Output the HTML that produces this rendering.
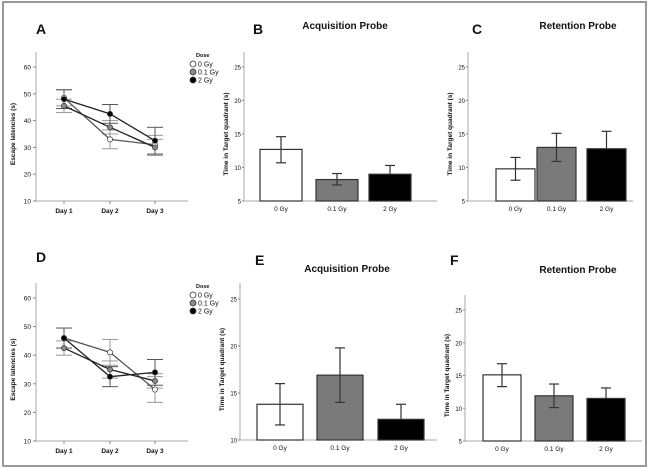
<!DOCTYPE html>
<html><head><meta charset="utf-8"><style>
body{margin:0;background:#fff;}
svg{display:block;font-family:"Liberation Sans",Arial,sans-serif;}
</style></head><body>
<svg id="fig" width="650" height="469" viewBox="0 0 650 469">
<rect x="3" y="2" width="643" height="464" fill="none" stroke="#999" stroke-width="2"/>
</svg>
<script>
const doses = ["0 Gy","0.1 Gy","2 Gy"];
const days = ["Day 1","Day 2","Day 3"];
const lineTicks = [10,20,30,40,50,60];
// Panel A (mean, err) per dose per day
const aMeans0 = [48.5,33,31];
const aMeans01 = [45.5,37.5,30];
const aMeans2 = [48,42.5,32.5];
const aErr0 = [3,3.5,3.5];
const aErr01 = [2.5,2.5,3];
const aErr2 = [3.5,3.5,5];
// Panel D
const dMeans0 = [46,41,28];
const dMeans01 = [42.5,35,31];
const dMeans2 = [46,32.5,34];
const dErr0 = [3.5,4.5,4.5];
const dErr01 = [2.5,3,2.5];
const dErr2 = [3.5,3.5,4.5];
// Bar panels
const bMeans = [12.7,8.2,9.0];
const bLow = [10.7,7.4,9.0];
const bHigh = [14.6,9.1,10.3];
const cMeans = [9.8,13.0,12.8];
const cLow = [8.1,10.9,12.8];
const cHigh = [11.5,15.1,15.4];
const eMeans = [13.8,16.9,12.2];
const eLow = [11.6,14.0,12.2];
const eHigh = [16.0,19.8,13.8];
const fMeans = [15.1,11.9,11.5];
const fLow = [13.3,10.1,11.5];
const fHigh = [16.8,13.7,13.1];
const barTicksB = [5,10,15,20,25];
const barTicksE = [10,15,20,25];

const svg = document.getElementById('fig');
const NS = 'http://www.w3.org/2000/svg';
function mk(tag, attrs, parent){
  const e = document.createElementNS(NS, tag);
  for (const k in attrs) e.setAttribute(k, attrs[k]);
  (parent||svg).appendChild(e);
  return e;
}
function txt(s, x, y, size, weight, anchor, parent, name, rot){
  const t = mk('text',{x:x,y:y,'font-size':size,'font-weight':weight||'normal','text-anchor':anchor||'start',fill:'#111'},parent);
  if (rot) t.setAttribute('transform','rotate(-90 '+x+' '+y+')');
  t.textContent = s;
  
  
  return t;
}
const doseFill = ['#fff','#8a8a8a','#000'];

function linePanel(id, letter, ly, y0, y1, means, errs){
  const g = mk('g',{});
  
  
  const x0 = 36, xEnd = 188, dayX = [64,110,155];
  const yS = v => y1 - (v-10)/(60-10)*(y1-y0);
  txt(letter, 36, ly, 14, 'bold', 'start', g, 'panel-label-'+id);
  mk('line',{x1:x0,y1:y0-15,x2:x0,y2:y1,stroke:'#aaa'},g);
  mk('line',{x1:x0,y1:y1,x2:xEnd,y2:y1,stroke:'#aaa'},g);
  lineTicks.forEach(t=>{
    mk('line',{x1:x0-3,y1:yS(t),x2:x0,y2:yS(t),stroke:'#888'},g);
    txt(String(t), x0-5, yS(t)+2.5, 6.5, 'normal', 'end', g, 'y-tick-'+t);
  });
  days.forEach((d,i)=>{
    mk('line',{x1:dayX[i],y1:y1,x2:dayX[i],y2:y1+3,stroke:'#888'},g);
    txt(d, dayX[i], y1+12, 6.5, 'bold', 'middle', g, 'x-tick-'+(i+1));
  });
  txt('Escape latencies (s)', 15, (y0+y1)/2, 6.5, 'bold', 'middle', g, 'y-axis-title', true);
  // error bars
  means.forEach((m,s)=>{
    m.forEach((v,i)=>{
      const e = errs[s][i], col = s===2?'#555':'#999';
      mk('line',{x1:dayX[i],y1:yS(v-e),x2:dayX[i],y2:yS(v+e),stroke:col},g);
      mk('line',{x1:dayX[i]-8,y1:yS(v-e),x2:dayX[i]+8,y2:yS(v-e),stroke:col},g);
      mk('line',{x1:dayX[i]-8,y1:yS(v+e),x2:dayX[i]+8,y2:yS(v+e),stroke:col},g);
    });
  });
  means.forEach((m,s)=>{
    const pts = m.map((v,i)=>dayX[i]+','+yS(v)).join(' ');
    const pl = mk('polyline',{points:pts,fill:'none',stroke:s===0?'#555':'#222','stroke-width':1.3},g);
    
    
    m.forEach((v,i)=>{
      const c = mk('circle',{cx:dayX[i],cy:yS(v),r:2.6,fill:doseFill[s],stroke:'#333','stroke-width':0.7},g);
      
      
    });
  });
  // legend
  const lg = mk('g',{},g);
  
  
  txt('Dose', 196, y0-10, 5.5, 'bold', 'start', lg, 'legend-title');
  doses.forEach((d,i)=>{
    const yy = y0-3+i*8;
    mk('circle',{cx:193,cy:yy,r:3,fill:doseFill[i],stroke:'#333','stroke-width':0.8},lg);
    txt(d, 198, yy+2.5, 7, 'normal', 'start', lg, 'legend-entry-'+i);
  });
}

function barPanel(id, letter, lx, ly, title, tx, ty, ax, axEnd, yTop, yBot, vMin, vMax, ticks, tickY, bx, bw, means, low, high){
  const g = mk('g',{});
  
  
  const yS = v => yBot - (v-vMin)/(vMax-vMin)*(yBot-yTop);
  txt(letter, lx, ly, 14, 'bold', 'start', g, 'panel-label-'+id);
  txt(title, tx, ty, 10, 'bold', 'middle', g, 'chart-title');
  mk('line',{x1:ax,y1:tickY,x2:ax,y2:yBot,stroke:'#aaa'},g);
  mk('line',{x1:ax,y1:yBot,x2:axEnd,y2:yBot,stroke:'#aaa'},g);
  ticks.forEach(t=>{
    mk('line',{x1:ax-2,y1:yS(t),x2:ax,y2:yS(t),stroke:'#888'},g);
    txt(String(t), ax-3, yS(t)+2.5, 6, 'normal', 'end', g, 'y-tick-'+t);
  });
  txt('Time in Target quadrant (s)', ax-16, (yTop+yBot)/2, 6.5, 'bold', 'middle', g, 'y-axis-title', true);
  means.forEach((v,i)=>{
    const r = mk('rect',{x:bx[i],y:yS(v),width:bw,height:yBot-yS(v),fill:doseFill[i]==='#8a8a8a'?'#7a7a7a':doseFill[i],stroke:'#333','stroke-width':1.2},g);
    
    
    const cx = bx[i]+bw/2;
    const col = '#333';
    mk('line',{x1:cx,y1:yS(low[i]),x2:cx,y2:yS(high[i]),stroke:col,'stroke-width':1.2},g);
    mk('line',{x1:cx-5,y1:yS(high[i]),x2:cx+5,y2:yS(high[i]),stroke:col,'stroke-width':1.2},g);
    if (low[i] < v) mk('line',{x1:cx-5,y1:yS(low[i]),x2:cx+5,y2:yS(low[i]),stroke:col,'stroke-width':1.2},g);
    txt(doses[i], cx, yBot+10, 6.5, 'normal', 'middle', g, 'x-tick-'+i);
  });
}

linePanel('a','A',34,67,201,[aMeans0,aMeans01,aMeans2],[aErr0,aErr01,aErr2]);
linePanel('d','D',262,298,441,[dMeans0,dMeans01,dMeans2],[dErr0,dErr01,dErr2]);
barPanel('b','B',253,34,'Acquisition Probe',345,29,244,437,67,201,5,25,barTicksB,52,[260,316,369],42,bMeans,bLow,bHigh);
barPanel('c','C',472,34,'Retention Probe',578,29,468,633,67,201,5,25,barTicksB,52,[496,537,587],39,cMeans,cLow,cHigh);
barPanel('e','E',255,265,'Acquisition Probe',347,272,240,437,299,440,10,25,barTicksE,283,[257,317,378],46,eMeans,eLow,eHigh);
barPanel('f','F',450,265,'Retention Probe',578,273,465,642,310,441,5,25,barTicksB,295,[483,535,587],38,fMeans,fLow,fHigh);
</script>
</body></html>
